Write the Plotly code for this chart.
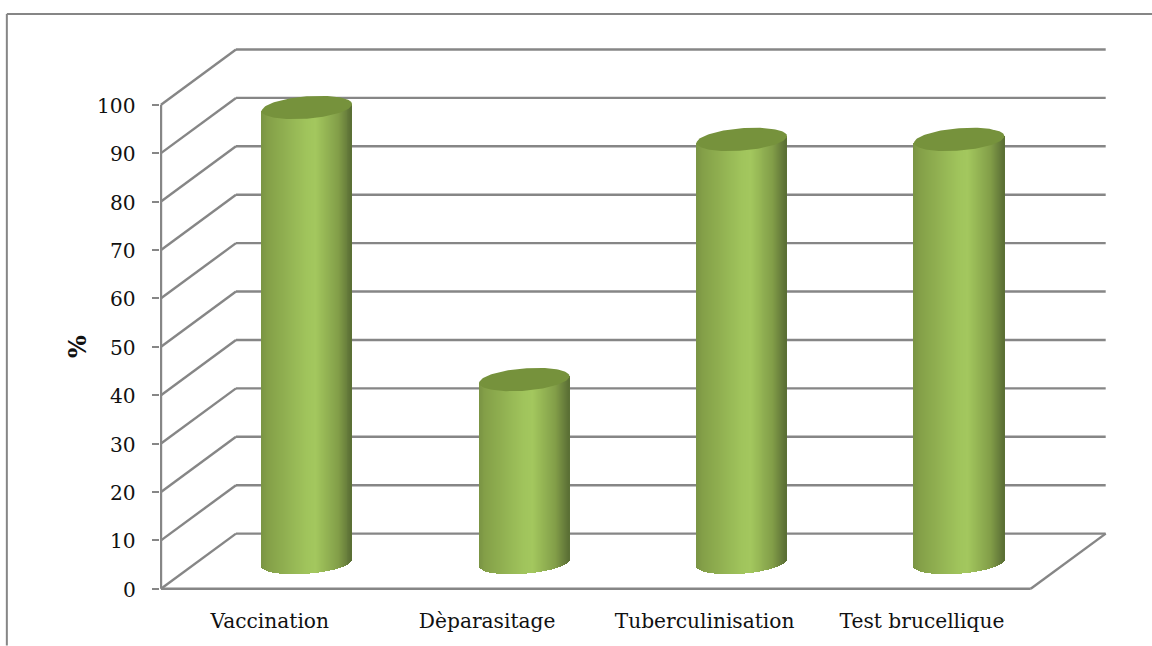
import math
import plotly.graph_objects as go

categories = ["Vaccination", "Dèparasitage", "Tuberculinisation", "Test brucellique"]
values = [94.0, 37.8, 87.4, 87.4]
y_ticks = [0, 10, 20, 30, 40, 50, 60, 70, 80, 90, 100]

# Pixel geometry of the pseudo-3D frame
W, H = 1152, 646
PX_X0, PX_BAND = 160.7, 217.5
PX_Y0, PX_UNIT = 589.3, 4.85
L, R, T, B = 159.7, 1107.0, 47.5, 590.5
DX = 75.0 / PX_BAND      # depth offset, category units
DY = 55.3 / PX_UNIT      # depth offset, value units
BAR_SHIFT = 37.2 / PX_BAND
BAR_HALF = 45.2 / PX_BAND
BASE_LIFT = 26.3 / PX_UNIT
TILT = 3.4 / PX_UNIT
CAP_B = 11.2 / PX_UNIT
GRID = "#868686"
STOPS = [(0.0, (122, 148, 68)), (0.08, (132, 160, 72)), (0.5, (160, 196, 92)),
         (0.6, (163, 199, 94)), (0.85, (130, 158, 72)), (0.96, (100, 122, 58)), (1.0, (90, 110, 52))]


def colour(f):
    for (a, ca), (b, cb) in zip(STOPS, STOPS[1:]):
        if f <= b:
            k = (f - a) / (b - a)
            return "rgb(%d,%d,%d)" % tuple(round(p + (q - p) * k) for p, q in zip(ca, cb))
    return "rgb(%d,%d,%d)" % STOPS[-1][1]


fig = go.Figure()

for i, v in enumerate(values):
    cx = i + BAR_SHIFT
    top = v + BASE_LIFT
    n = 91
    xs, bases, heights, cols = [], [], [], []
    step = 2 * BAR_HALF / n
    for k in range(n):
        u = -1 + (2 * k + 1) / n
        s = math.sqrt(max(0, 1 - u * u))
        low = BASE_LIFT + TILT * u - CAP_B * s
        high = top + TILT * u
        xs.append(cx + u * BAR_HALF)
        bases.append(low)
        heights.append(high - low)
        cols.append(colour((u + 1) / 2))
    fig.add_trace(go.Bar(x=xs, y=heights, base=bases, width=step * 1.25,
                         marker=dict(color=cols, line=dict(width=0)),
                         hoverinfo="skip", showlegend=False))
    cap_x, cap_y = [], []
    for k in range(121):
        t = 2 * math.pi * k / 120
        cap_x.append(cx + BAR_HALF * math.cos(t))
        cap_y.append(top + TILT * math.cos(t) + CAP_B * math.sin(t))
    fig.add_trace(go.Scatter(x=cap_x, y=cap_y, mode="lines", fill="toself",
                             fillcolor="#76923c", line=dict(width=0, color="#76923c"),
                             hoverinfo="skip", showlegend=False))

x_left = -0.5
x_front_right = len(categories) - 0.5
LW = 2.4
shapes = []
for t in y_ticks:
    shapes.append(dict(type="line", layer="below", xref="x", yref="y",
                       x0=x_left, y0=t, x1=x_left + DX, y1=t + DY,
                       line=dict(color=GRID, width=LW)))
    shapes.append(dict(type="line", layer="below", xref="x", yref="y",
                       x0=x_left + DX, y0=t + DY, x1=x_front_right + DX, y1=t + DY,
                       line=dict(color=GRID, width=LW)))
shapes.append(dict(type="line", layer="below", xref="x", yref="y",
                   x0=x_left, y0=0, x1=x_left, y1=100, line=dict(color=GRID, width=LW)))
shapes.append(dict(type="line", layer="below", xref="x", yref="y",
                   x0=x_left, y0=0, x1=x_front_right, y1=0, line=dict(color=GRID, width=LW)))
shapes.append(dict(type="line", layer="below", xref="x", yref="y",
                   x0=x_front_right, y0=0, x1=x_front_right + DX, y1=DY,
                   line=dict(color=GRID, width=LW)))

# Outer chart frame (open on the right and at the bottom)
def px(x):
    return (x - L) / (R - L)


def py(y):
    return (B - y) / (B - T)


shapes.append(dict(type="line", xref="paper", yref="paper", x0=px(6.5), y0=py(646),
                   x1=px(6.5), y1=py(13.5), line=dict(color=GRID, width=2)))
shapes.append(dict(type="line", xref="paper", yref="paper", x0=px(6.5), y0=py(13.5),
                   x1=px(1152), y1=py(13.5), line=dict(color=GRID, width=2)))

FONT = "DejaVu Serif"
annotations = [dict(text="<b>%</b>", xref="paper", yref="y", x=px(77), y=50,
                    xanchor="center", yanchor="middle", textangle=-90, showarrow=False,
                    font=dict(family=FONT, size=24, color="#111111"))]
for t in y_ticks:
    annotations.append(dict(text=str(t), xref="paper", yref="y", x=px(138), y=t,
                            xanchor="right", yanchor="middle", yshift=-1, showarrow=False,
                            font=dict(family=FONT, size=20.2, color="#111111")))

fig.update_layout(
    width=W, height=H, autosize=False,
    paper_bgcolor="white", plot_bgcolor="white",
    margin=dict(l=L, r=W - R, t=T, b=H - B, pad=0),
    showlegend=False, barmode="overlay", bargap=0,
    shapes=shapes,
    font=dict(family=FONT, size=20.2, color="#111111"),
    xaxis=dict(range=[x_left - 1 / PX_BAND, x_left + (R - PX_X0) / PX_BAND],
               tickmode="array", tickvals=list(range(len(categories))), ticktext=categories,
               showgrid=False, zeroline=False, showline=False, ticks="",
               ticklabelstandoff=17, automargin=False),
    yaxis=dict(range=[(PX_Y0 - B) / PX_UNIT, (PX_Y0 - T) / PX_UNIT],
               tickmode="array", tickvals=y_ticks, showticklabels=False,
               showgrid=False, zeroline=False, showline=False,
               ticks="outside", ticklen=7, tickwidth=2, tickcolor=GRID,
               automargin=False),
    annotations=annotations,
)

fig.write_html("out.html", config={"displayModeBar": False},
               post_script="document.body.style.margin='0';document.documentElement.style.overflow='hidden';")
